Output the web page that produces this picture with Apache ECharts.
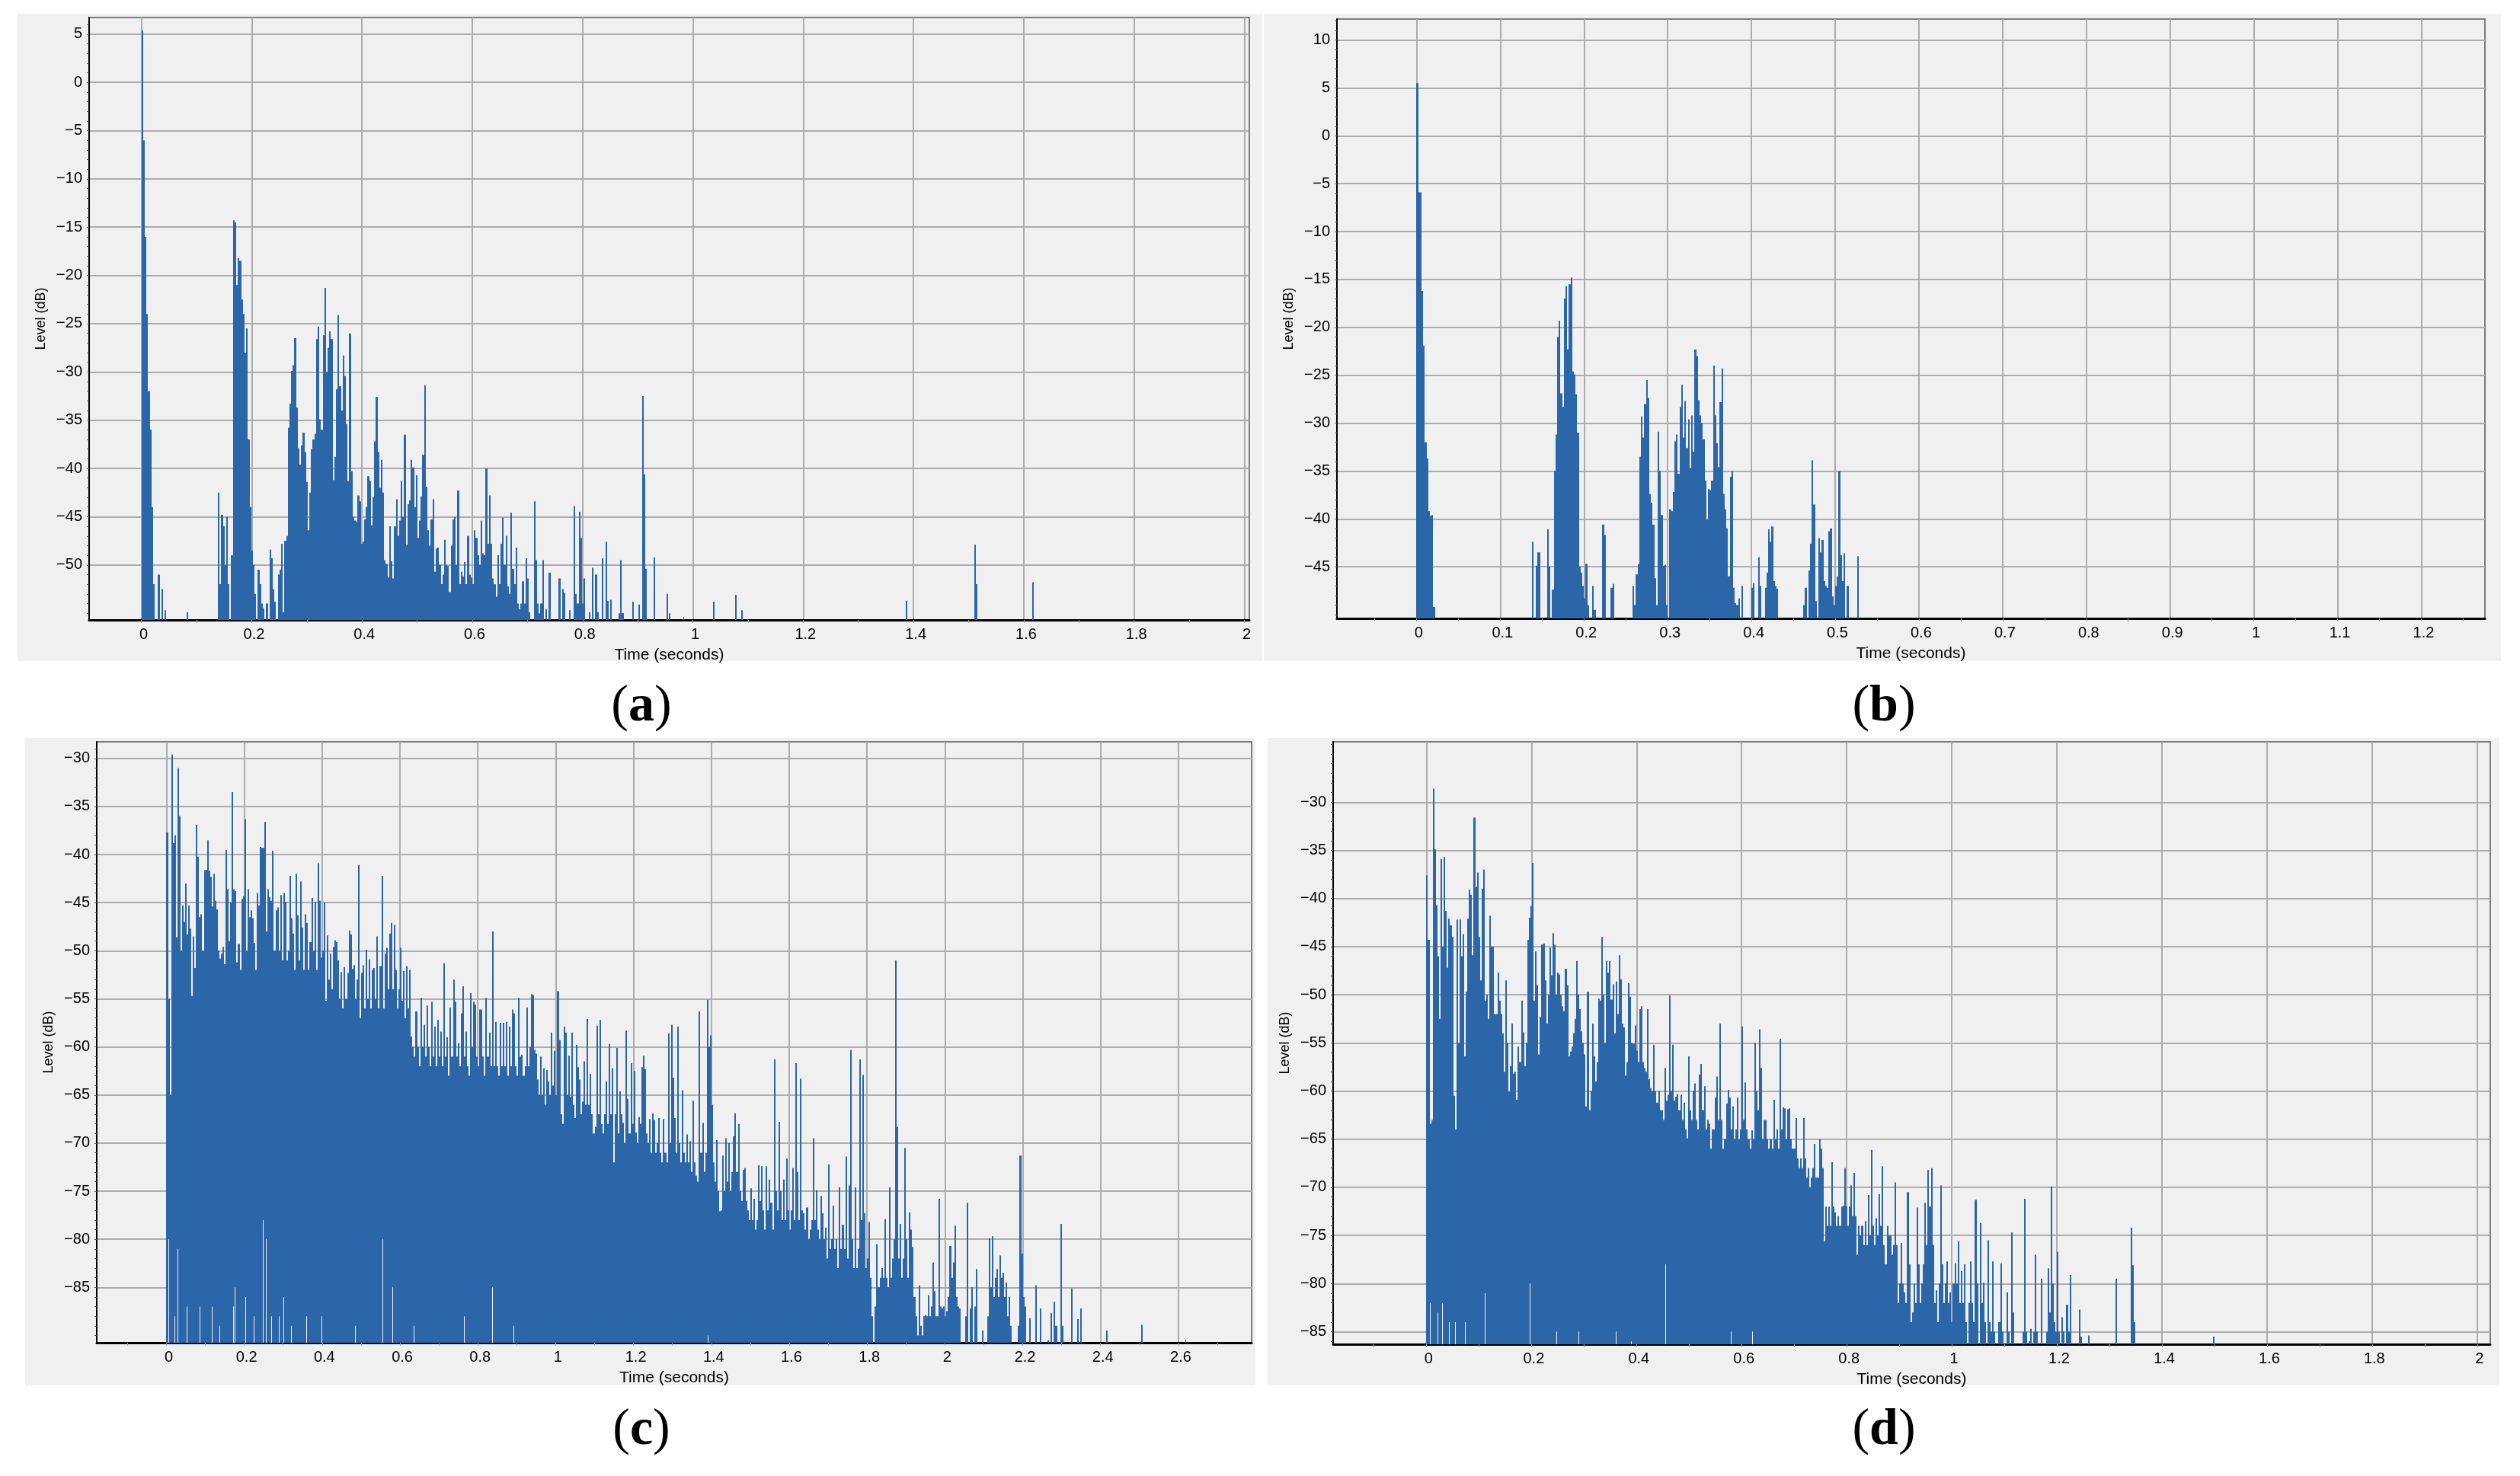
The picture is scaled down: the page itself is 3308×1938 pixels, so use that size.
<!DOCTYPE html>
<html>
<head>
<meta charset="utf-8">
<title>Level vs time</title>
<style>
    html, body { margin: 0; padding: 0; background: #fff; }
    #main { width: 3308px; height: 1938px; }
</style>
<script src="https://cdn.jsdelivr.net/npm/echarts@6/dist/echarts.min.js"></script>
</head>
<body>
<div id="main"></div>
<script>
    const _ = null; // silent bin, nothing above the floor

    // (a) peak level per 3 ms bin
    const binA = 0.003015;
    const levelsA = [
        5.4,-6,-16,-24,-32,-36,-44,-52,_,_,
        -51,_,-52.5,_,-54.7,_,_,_,_,_,
        _,_,_,_,_,_,_,-54.9,_,_,
        _,_,_,_,_,_,_,_,_,_,
        _,_,_,_,_,_,-42.5,-52,-44.8,-46,
        -50,-45,-52,_,-49,-14.3,-14.5,-21,-18.2,-18.5,
        -22.5,-24,-28,-25.5,-37,-44,-48.5,-50,-53,_,
        -50.5,-52,-54,-54.5,_,-54,_,-48.4,-49.3,-52.5,
        -53.8,_,-51,-50.5,-47.8,-54.9,-47.5,-47,-35.8,-33.3,
        -29.9,-29.3,-26.5,-33.7,-37.9,-39.6,-37.6,-36.3,-38.3,-41.4,
        -46.4,-42.5,-38,-37,-36.4,-26.6,-25.3,-34.9,-36,-26.2,
        -21.3,-30,-27.5,-25.8,-26.6,-41.2,-38.8,-31.8,-24.1,-31.5,
        -34,-28.3,-30.4,-35.4,-41.3,-26,-40.3,-45,-45.4,-45.5,
        -42.8,-43.4,-47.8,-47.6,-45.3,-44,-40.8,-41.3,-45.9,-43,
        -37.2,-32.6,-38.3,-42,-39.1,-42.5,-49.5,-49.9,-51.3,-46,
        -49.6,-51.4,-46,-43.2,-47,-45.4,-41.3,-45,-36.5,-47.9,
        -43.7,-43.3,-39.1,-39.9,-44,-40.7,-47.2,-45.4,-42.9,-38.6,
        -31.4,-41.9,-46.4,-48,-45.3,-43.2,-50.7,-48.3,-48.2,-50,
        -52,-51,-47.4,-50,-50.1,-52.8,-48,-45.3,-45,-50,
        -42.3,-52,-50.7,-51.2,-49.7,-52,-47,-51,-51.3,-52,
        -46.4,-47.2,-49,-50,-45.4,-48.8,-49,-40,-47.8,-42.8,
        -47.8,-51.4,-52,-53.3,-49,-52,-47.8,-45.1,-50,-47,
        -52.2,-53,-44.6,-50.4,-52,-48.2,-54,-54.6,-54,-51.7,
        -54,-49.3,-51.4,-54.9,_,_,-43.4,-49.5,-54,-55,
        -54,-49.5,_,-54.6,_,-50.8,_,_,_,_,
        _,-51.4,_,-52.5,-52.9,_,_,-54.7,_,_,
        -43.9,-53,-54,-44.5,-47.2,-54,-51.4,_,_,-54.9,
        _,-50.3,_,-51,-54.9,_,_,-49.3,_,-47.6,
        -53.7,_,-53.6,_,_,_,_,-55,-49.5,-55,
        _,_,_,_,_,-53.8,_,_,_,-54.1,
        _,-32.5,-40.6,-50.4,_,_,_,_,-49.2,_
    ];
    const strayA = [[0.952,-53],[0.956,-55],[0.982,-55.4],[1.036,-53.8],[1.076,-53.1],[1.087,-54.7],[1.098,-55.6],[1.386,-53.7],[1.511,-47.9],[1.513,-52],[1.616,-51.8]];

    // (b) peak level per 2 ms bin
    const binB = 0.002;
    const levelsB = [
        5.5,-5.9,-5.9,-16.2,-21.9,-32,-33.7,-39.2,-39.7,-39.6,
        -49.2,_,_,_,_,_,_,_,_,_,
        _,_,_,_,_,_,_,_,_,_,
        _,_,_,_,_,_,_,_,_,_,
        _,_,_,_,_,_,_,_,_,_,
        _,_,_,_,_,_,_,_,_,_,
        _,_,_,_,_,_,_,_,_,-42.4,
        _,-44.9,-43.5,-43.5,_,_,_,_,-41.1,-45,
        _,-47.4,-35,-31.2,-21,-19.3,-26.9,-28.3,-17,-15.7,
        -22.3,-15.5,-14.8,-24.6,-24.9,-27,-31,-45,-45.6,-47,
        -48.3,-44.7,-49,_,_,-47,-49.5,_,_,_,
        _,-40.6,-41.7,_,_,_,-47.2,-46.8,_,_,
        _,_,_,_,_,_,_,_,_,-47,
        -49,-45.8,-44.7,-33.5,-29.3,-31.5,-28,-25.5,-27.4,-37.4,
        -38.3,-40.6,-46.2,-49,-30.9,-35,-39.6,-44.9,-44.8,-49,
        _,-39,-39.2,-37.2,-31.9,-31.2,-35.3,-28.3,-26,-31.5,
        -27.7,-32.6,-29.6,-34.7,-29.2,-33,-22.3,-23,-27.6,-29.2,
        -30,-31.7,-36,-40.1,-36.9,-37,-36,-24,-29.2,-32.1,
        -34.6,-27.8,-24.3,-37.4,-39,-41,-46,-35.6,-35,-47.2,
        -48.8,-49,-48.3,_,-47,_,_,_,_,_,
        -47.2,-46.7,_,_,-44,-47,_,_,-47.2,-45.6,
        -41.1,-42.4,-40.8,-46.5,-47,-47.3,_,_,_,_,
        _,_,_,_,_,_,_,_,_,_,
        _,-49,-47.2,_,-45.4,-42.6,-33.9,-38.5,-48.6,_,
        -42,-43.5,-42.2,-46.5,-47,-47.2,-41.3,-41,-48.1,-49,
        -47,-46,-35,-43.8,-46.5,-43.6,_,-47,_,_,
        _,_,_,-43.9
    ];
    const strayB = [];

    // (c) peak level per 4 ms bin, 25 bins a row
    const binC = 0.004;
    const levelsC = [
        -37.7,-55,-65,-29.6,-38.8,-38,-48.6,-31,-36,-50,-45.3,-47,-43,-48.3,-45.3,-47.7,-54.7,-48.5,-51.8,-36.9,-40.2,-46.5,-46.2,-50,-41.6,
        -41.6,-38.5,-41.7,-42.3,-45.4,-42,-44.8,-45.7,-50,-50.8,-50.3,-49.6,-51.4,-39.5,-43.6,-49,-45,-33.5,-43.6,-43.8,-51.2,-49.3,-52,-44.6,-44.3,
        -36.3,-50,-43.6,-46.5,-45.8,-46.6,-49.2,-52,-44,-45.3,-39.2,-39.3,-39.3,-36.6,-48,-43.6,-44.4,-44.8,-39.6,-50,-45.8,-45.5,-50,-44.2,-51,
        -44,-44.9,-51,-50,-42.2,-46.6,-48.2,-52,-42,-46.3,-51,-42.8,-47.6,-52,-46.2,-47.1,-52,-49.1,-44.5,-50,-44.9,-52,-40.9,-44.8,-50.7,
        -50,-45,-55.2,-48.4,-53,-50.3,-54,-49.6,-48.9,-49.1,-51,-55,-52.2,-56,-51.7,-55,-52.3,-47.9,-48.3,-51.9,-51.5,-55,-53,-41.1,-57,
        -52.3,-51.5,-56,-49.9,-55,-50.9,-56,-52,-51.8,-55,-48.5,-56,-51.6,-42.2,-56,-50.3,-49.7,-54,-48.2,-47.1,-54,-47.3,-52,-56,-54,
        -49.7,-55.2,-52.1,-57,-51.6,-56,-52,-58.9,-60,-61,-56.3,-60,-62,-54.9,-60,-57.7,-61,-55.7,-60,-62,-55.3,-61,-57.9,-62,-57.2,
        -61,-58.4,-62,-51.3,-61,-59,-63,-55.9,-61,-53,-55.3,-61,-59.6,-62,-56.5,-53.7,-61,-58.4,-62,-63,-54.4,-60,-55.3,-55.6,-61,
        -62,-56.1,-56.1,-61,-63,-54.9,-61,-58.5,-62,-48,-62,-57.4,-62,-63,-57.5,-62,-57.5,-62,-57.4,-63,-57.9,-62,-56.1,-56.5,-62,
        -63,-54.9,-61,-60.8,-63,-62,-55.9,-62,-60,-54.5,-54.6,-60.3,-60.7,-63.4,-65,-61,-65,-62.2,-66,-62.4,-63.6,-65,-58.5,-64,-60.4,
        -65,-54.2,-59.3,-67,-68,-57.9,-58.5,-65,-60.9,-65.2,-58.5,-66,-67.4,-59.8,-62.1,-63.4,-67,-65.7,-61.5,-66,-57.1,-66,-62.8,-67,-69,
        -68.3,-57.8,-67,-57.2,-68,-69,-67,-63.6,-68,-59.7,-67,-62.2,-72,-67,-60.1,-69,-64.6,-67,-67.9,-70,-58.3,-65.4,-69,-61.7,-68,
        -62.5,-68.9,-70,-67.3,-68,-62.1,-60.9,-62.3,-69,-70,-67.5,-71,-66.9,-67.6,-71,-70,-67.4,-71,-72,-67.5,-71,-72,-58.6,-70,-57.7,
        -63.2,-67.4,-71,-57.9,-70,-72,-64.5,-71,-72,-69.1,-72,-69.8,-73,-65.6,-72,-73.4,-74,-56.3,-71,-67.9,-73,-71,-55.1,-60,-58.8,
        -66,-72,-74,-69.7,-75,-77.1,-77,-71.3,-75,-69.5,-74,-70,-75,-73,-69.3,-66.9,-73,-68,-75,-76,-72.8,-72.6,-76,-77,-78,
        -74.7,-78,-75.8,-79,-78,-72.3,-76,-72.4,-77,-79,-72.4,-77,-73.8,-76.2,-79,-61.3,-75,-77,-67.8,-75,-78,-73.8,-78,-71.6,-77,
        -79,-77,-72.6,-78,-61.7,-73,-78,-63.3,-77,-77.3,-79,-76.7,-80,-79,-78,-69.5,-78,-74.9,-79,-80,-75.5,-77.3,-80,-78.8,-82,
        -72.2,-81,-80,-76.5,-81,-80,-83,-74.6,-81,-78.5,-81,-71.4,-82,-74.4,-60.3,-80,-83,-74.6,-83,-81,-61.3,-78,-62.9,-77.3,-83,
        -82,-78.2,-84,-88,_,-87,-80.5,-85,-84,-83,-84,-77.9,-84,-85,-74.6,-84,-82,-80,-51,-68.3,-82,-78.4,-84,-82,-70.5,
        -80,-84,-77.2,-79,-80.8,-86,-88,-90,-84.8,-89,-90,-88,-87.9,-88,-85.8,-88,-87,-82.4,-85.4,-88,-88,-75.8,-87,-87.2,-87,
        -88,-87.5,-86,-80.7,-84,-82.4,-78.6,-86,-87,-87.2,_,_,_,-88,-76.2,_,-87.2,-85,_,-87,-83.1,_,_,_,-89.5,
        _,_,-88,-79.9,-85,-79.7,-86,-84,-83.1,-86,-81.7,-84,-83.5,-86,-84.5,-88,-86,-89,_,_,_,_,-89,-71.3,-81.5,
        -86,-87,_,_,-88.2,_,_,_,-84.8,_,_,-87.2,_,_,_,_,-90.5,_,-87.7,_,-86.5,-89,_,_,-78.4,
        -89,_,_,_,_,_,-85.1,_,_,_,-88.3,_,-87.2
    ];
    const strayC = [[2.414,-89.5],[2.505,-88.9],[2.617,-90.4]];
    const slitsC = [[0.005,-80],[0.021,-88],[0.029,-81],[0.051,-87],[0.085,-87],[0.117,-87],[0.136,-89],[0.171,-87],[0.176,-85],[0.2025,-86],[0.224,-88],[0.2475,-78],[0.256,-80],[0.269,-88],[0.289,-88],[0.3,-86],[0.321,-89],[0.359,-88],[0.399,-88],[0.484,-89],[0.555,-80],[0.581,-85],[0.636,-89],[0.765,-88],[0.836,-85],[0.891,-89],[1.39,-90]];

    // (d) peak level per 3 ms bin, 25 bins a row
    const binD = 0.003;
    const levelsD = [
        -37.6,-44.3,-63.4,-63,-28.6,-34.9,-40.7,-46,-52.5,-35.9,-45,-35.7,-41.3,-47.2,-42.1,-42.8,-44,-60.5,-64,-42.2,-55,-42.2,-46,-43.7,-56.4,
        -49.7,-42.1,-39.1,-39.6,-45.9,-31.6,-38.8,-37.3,-44,-48.5,-39,-37,-50.6,-50,-52.5,-41.8,-45,-45,-52,-52,-47.7,-50.6,-52,-54,-58,
        -48.5,-55,-60.1,-57.4,-53,-58.2,-58,-60.9,-55.4,-57,-50.6,-53.9,-57.4,-55,-44.3,-42,-40.8,-36.3,-50.6,-45.5,-49,-56.2,-52.3,-44.8,-44.7,
        -48.5,-53,-50,-45.1,-48,-43.6,-44.8,-50,-47.7,-47.9,-50,-51.2,-51.7,-47.3,-49,-56.4,-55.9,-55.4,-54,-52.5,-46.5,-50,-51.5,-53.8,-55,
        -56.2,-61.6,-49.7,-62,-60,-53,-56.4,-59,-57,-50.4,-50.6,-44,-50,-55,-46.5,-47.7,-46.5,-50.5,-48.9,-54,-48.6,-52,-45.9,-48.4,-53,
        -53.4,-58.4,-57,-48.8,-50.2,-55,-55.1,-53.2,-55.8,-57,-51.5,-51.2,-57,-57.6,-58,-51.5,-58.8,-59.7,-60,-55.2,-60,-61.2,-60,-62,-62,
        -63,-57.6,-61,-60.4,-50.1,-60,-55.2,-61,-60.6,-60.3,-62,-60.4,-63,-61.2,-64,-64.9,-56.4,-62,-63,-60,-59.2,-63,-64,-58.3,-57.2,
        -62,-59.5,-64,-63,-63.4,-66,-64,-64,-60.7,-58.5,-63,-53,-63,-66,-65,-61.3,-59.9,-60.7,-64,-61.6,-65,-64,-60.7,-65,-64,
        -53.3,-63,-59.1,-64,-65,-66,-64.1,-65,-55,-60,-62,-53.6,-57.6,-65,-63,-63,-65,-66,-65,-66,-60.9,-65,-64,-66,-54.6,
        -64,-61.7,-61.8,-65,-61.9,-61.8,-65,-66,-66,-62.8,-67,-68,-67,-68,-62.8,-67,-69,-68,-70,-69,-68,-65.5,-69,-69,-65,
        -66,-68,-75.6,-72,-74,-72,-74,-67.4,-72,-72.6,-74,-73,-74,-72,-71.9,-68,-72,-74,-72,-69.8,-73,-68.5,-73,-77,-74,
        -75,-74,-76,-73.5,-76,-70.8,-75,-66.1,-74,-76,-73.2,-75,-70.7,-74,-67.8,-76,-78,-74,-75,-75,-77,-76,-69.5,-76,-82,
        -80,-75.8,-80,-80.9,-82,-70.5,-78,-84,-83,-80,-82,-72.1,-78,-82,-80,-78,-71.6,-76,-68.2,-72,-68,-76,-82,-80.7,-84,
        -80,-69.8,-78,-82,-80,-77.7,-82,-80.9,-84,-80,-77.9,-80,-75.6,-82,-78.7,-82,-78,-84,_,-82,-77.7,-82,-84,-71.3,-80,
        _,-73.7,-82,-79.9,-84,_,-75.5,-84,-85,-77.7,-85,_,_,-84,-77.9,-85,_,_,-80.9,-85,_,-74.7,-83,_,_,
        _,_,_,-85,-71.2,-85,_,-86,-84.7,_,-85,-77,-85,_,_,-79.5,_,_,-85,-78.4,-83,-69.9,-80,-84,-85,
        -76.7,-85,_,-83.5,-85,_,-82.2,-85,-79.1,_,_,_,_,_,-82.7,-85.5,_,_,_,_,-85.4,_,_,_,_,
        _,_,_,_,_,_,_,_,_,_,_,_,-79.5,_,_,_,_,_,_,_,_,_,-74.2,-78.1,-84
    ];
    const strayD = [[1.497,-85.5]];
    const slitsD = [[0.007,-82],[0.021,-83],[0.030,-82],[0.043,-84],[0.055,-84],[0.074,-84],[0.111,-81],[0.196,-80],[0.247,-85],[0.29,-85],[0.36,-85],[0.39,-86],[0.455,-78],[0.58,-85],[0.62,-85]];

    // tick labels
    const xLabelsA = [0,0.2,0.4,0.6,0.8,1,1.2,1.4,1.6,1.8,2];
    const yLabelsA = [5,0,-5,-10,-15,-20,-25,-30,-35,-40,-45,-50];
    const xLabelsB = [0,0.1,0.2,0.3,0.4,0.5,0.6,0.7,0.8,0.9,1,1.1,1.2];
    const yLabelsB = [10,5,0,-5,-10,-15,-20,-25,-30,-35,-40,-45];
    const xLabelsC = [0,0.2,0.4,0.6,0.8,1,1.2,1.4,1.6,1.8,2,2.2,2.4,2.6];
    const yLabelsC = [-30,-35,-40,-45,-50,-55,-60,-65,-70,-75,-80,-85];
    const xLabelsD = [0,0.2,0.4,0.6,0.8,1,1.2,1.4,1.6,1.8,2];
    const yLabelsD = [-30,-35,-40,-45,-50,-55,-60,-65,-70,-75,-80,-85];

    const chartDom = document.getElementById('main');
    const myChart = echarts.init(chartDom, null, {renderer: 'canvas'});

    const blue = '#2b66a9';
    const plotBg = '#f0f0f0';

    // left, top, right, bottom of each plot in page pixels, and its axis range
    const panels = [
        {box: [117, 23, 1640, 814], x: [-0.0948, 2.009], y: [-55.7, 6.72], bin: binA, levels: levelsA, stray: strayA, slits: [], xLabels: xLabelsA, yLabels: yLabelsA, xMinor: 0.1, caption: 'a', at: [842, 928], bg: [23, 18, 1657, 868]},
        {box: [1755, 25, 3262, 812], x: [-0.095, 1.276], y: [-50.4, 12.2], bin: binB, levels: levelsB, stray: strayB, slits: [], xLabels: xLabelsB, yLabels: yLabelsB, xMinor: 0.05, caption: 'b', at: [2473, 928], bg: [1659, 18, 3283, 868]},
        {box: [127, 974, 1643, 1763], x: [-0.179, 2.788], y: [-90.76, -28.27], bin: binC, levels: levelsC, stray: strayC, slits: slitsC, xLabels: xLabelsC, yLabels: yLabelsC, xMinor: 0.1, caption: 'c', at: [842, 1878], bg: [33, 969, 1648, 1819]},
        {box: [1750, 974, 3269, 1765], x: [-0.1775, 2.025], y: [-86.3, -23.73], bin: binD, levels: levelsD, stray: strayD, slits: slitsD, xLabels: xLabelsD, yLabels: yLabelsD, xMinor: 0.1, caption: 'd', at: [2473, 1878], bg: [1664, 969, 3281, 1819]}
    ];

    function minorTicks(from, to, step) {
        const out = [];
        for (let i = Math.ceil(from / step); i * step <= to; i++) {
            out.push(Math.round(i * step * 1000) / 1000);
        }
        return out;
    }

    function spikeData(p) {
        const rows = [];
        p.levels.forEach(function (level, i) {
            if (level !== null) rows.push([i * p.bin, (i + 1) * p.bin, level, 0]);
        });
        p.stray.forEach(function (s) {
            rows.push([s[0], s[0] + p.bin * 0.9, s[1], 0]);
        });
        p.slits.forEach(function (s) {
            rows.push([s[0], s[0] + p.bin * 0.35, s[1], 1]);
        });
        return rows;
    }

    const grids = [], xAxes = [], yAxes = [], series = [], graphics = [];

    panels.forEach(function (p, n) {
        graphics.push({
            type: 'rect', silent: true, z: -10,
            shape: {x: p.bg[0], y: p.bg[1], width: p.bg[2] - p.bg[0], height: p.bg[3] - p.bg[1]},
            style: {fill: plotBg}
        });
        graphics.push({
            type: 'text', silent: true, x: p.at[0], y: p.at[1],
            style: {
                text: '{p|(}{b|' + p.caption + '}{p|)}',
                align: 'center', verticalAlign: 'middle',
                rich: {
                    p: {fontFamily: 'Liberation Serif', fontSize: 68, fill: '#000'},
                    b: {fontFamily: 'Liberation Serif', fontSize: 68, fontWeight: 'bold', fill: '#000'}
                }
            }
        });
        grids.push({
            show: true, left: p.box[0], top: p.box[1],
            width: p.box[2] - p.box[0], height: p.box[3] - p.box[1],
            backgroundColor: plotBg, borderColor: '#7d7d7d', borderWidth: 2
        });
        // main axes carry labels and grid lines, a second pair only the small ticks
        xAxes.push({
            type: 'value', gridIndex: n, min: p.x[0], max: p.x[1], position: 'bottom',
            name: 'Time (seconds)', nameLocation: 'middle', nameGap: 36,
            nameTextStyle: {fontFamily: 'Liberation Sans', fontSize: 21, color: '#000'},
            axisLine: {show: true, onZero: false, lineStyle: {color: '#000', width: 3}},
            axisTick: {show: false, customValues: p.xLabels},
            axisLabel: {show: true, customValues: p.xLabels, margin: 9, padding: [0, 0, 0, 6], fontFamily: 'Liberation Sans', fontSize: 20, color: '#000', formatter: function (v) { return String(v); }},
            splitLine: {show: true, customValues: p.xLabels, lineStyle: {color: '#acacac', width: 2}}
        }, {
            type: 'value', gridIndex: n, min: p.x[0], max: p.x[1], position: 'bottom',
            axisLine: {show: false, onZero: false},
            axisTick: {show: true, customValues: minorTicks(p.x[0], p.x[1], p.xMinor), length: 4, lineStyle: {color: '#9a9a9a'}},
            axisLabel: {show: false},
            splitLine: {show: false}
        });
        yAxes.push({
            type: 'value', gridIndex: n, min: p.y[0], max: p.y[1], position: 'left',
            name: 'Level (dB)', nameLocation: 'middle', nameGap: 54,
            nameTextStyle: {fontFamily: 'Liberation Sans', fontSize: 18, color: '#000'},
            axisLine: {show: true, onZero: false, lineStyle: {color: '#000', width: 2}},
            axisTick: {show: false, customValues: p.yLabels},
            axisLabel: {show: true, customValues: p.yLabels, margin: 9, fontFamily: 'Liberation Sans', fontSize: 20, color: '#000', formatter: function (v) { return String(v).replace('-', '\u2212'); }},
            splitLine: {show: true, customValues: p.yLabels, lineStyle: {color: '#acacac', width: 2}}
        }, {
            type: 'value', gridIndex: n, min: p.y[0], max: p.y[1], position: 'left',
            axisLine: {show: false, onZero: false},
            axisTick: {show: true, customValues: minorTicks(p.y[0], p.y[1], 1), length: 3, lineStyle: {color: '#555'}},
            axisLabel: {show: false},
            splitLine: {show: false}
        });
        series.push({
            type: 'custom', xAxisIndex: 2 * n, yAxisIndex: 2 * n,
            clip: true, animation: false, silent: true,
            encode: {x: [0, 1], y: 2},
            data: spikeData(p),
            renderItem: function (params, api) {
                const top = api.coord([api.value(0), api.value(2)]);
                const foot = api.coord([api.value(1), p.y[0]]);
                // whole pixels, so neighbouring bins leave no seams
                const left = Math.round(top[0]);
                const right = Math.max(left + 1, Math.round(foot[0]));
                return {
                    type: 'rect',
                    shape: {x: left, y: top[1], width: right - left, height: foot[1] - top[1]},
                    style: {fill: api.value(3) ? plotBg : blue}
                };
            }
        });
    });

    const option = {
        animation: false,
        backgroundColor: '#fff',
        grid: grids,
        xAxis: xAxes,
        yAxis: yAxes,
        series: series,
        graphic: graphics
    };

    option && myChart.setOption(option);
</script>
</body>
</html>
